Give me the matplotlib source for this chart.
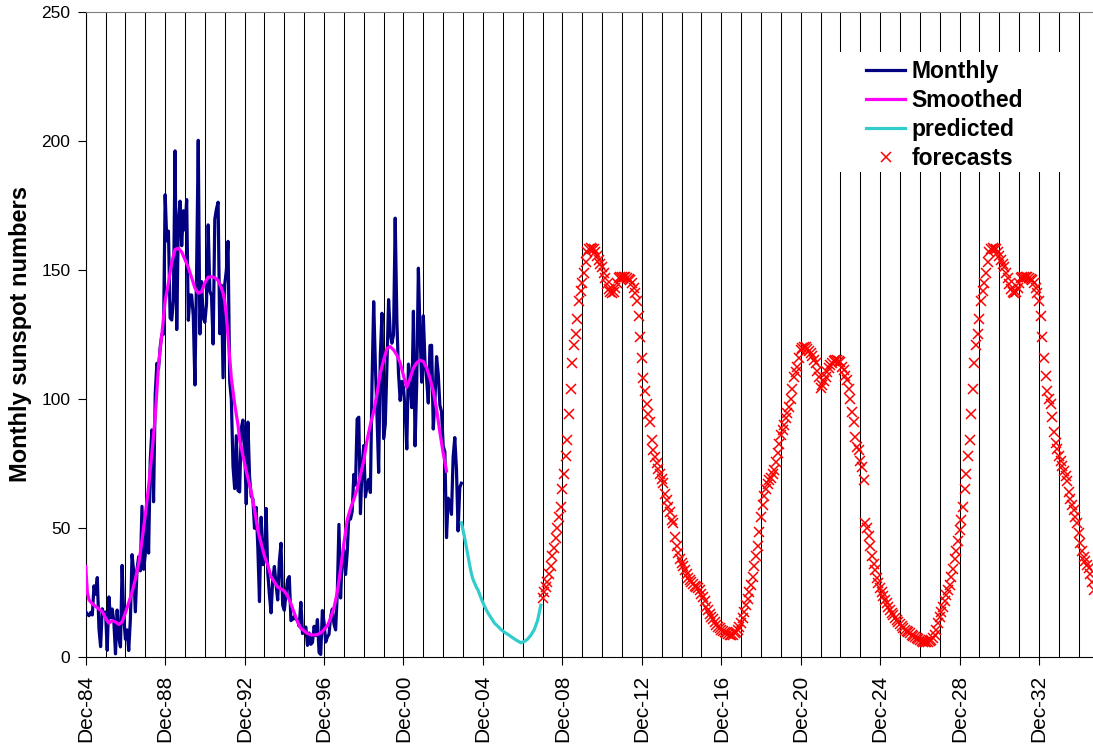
import numpy as np
import matplotlib
matplotlib.use("Agg")
import matplotlib.pyplot as plt
from matplotlib.patches import Rectangle

plt.rcParams['font.family'] = ['Liberation Sans', 'DejaVu Sans']

# x axis = months since Dec 1984
monthly = [17.5,
    16.5, 15.9, 17.2, 16.2, 27.5, 24.2, 30.7, 11.1, 3.9, 18.6, 16.2, 17.3,
    2.5, 23.2, 15.1, 18.5, 13.7, 1.1, 18.1, 7.4, 3.8, 35.4, 15.2, 6.8,
    10.4, 2.4, 14.7, 39.6, 33.0, 17.4, 33.9, 38.8, 33.3, 58.3, 33.9, 39.7,
    59.0, 40.2, 76.2, 88.0, 60.1, 101.8, 113.8, 111.6, 120.1, 125.1, 125.1, 179.2,
    161.3, 165.1, 131.4, 130.6, 138.5, 196.2, 126.9, 168.9, 176.7, 159.4, 173.0, 165.5,
    177.3, 130.5, 140.3, 140.3, 132.2, 105.4, 149.4, 200.3, 125.2, 145.5, 131.4, 129.7,
    136.9, 167.5, 141.9, 140.0, 121.3, 169.7, 173.7, 176.3, 125.3, 144.1, 108.2, 144.4,
    150.0, 161.1, 106.7, 99.8, 73.8, 65.2, 85.7, 64.5, 63.9, 88.7, 91.8, 82.6,
    59.3, 91.0, 69.8, 62.2, 61.3, 49.8, 57.9, 42.3, 21.4, 54.1, 35.7, 37.5,
    57.5, 32.6, 24.0, 17.0, 30.0, 35.0, 28.0, 22.0, 37.0, 44.0, 20.0, 18.0,
    24.2, 29.9, 31.1, 14.0, 14.5, 15.6, 14.5, 14.3, 11.8, 21.1, 9.0, 10.0,
    11.5, 4.4, 9.2, 4.8, 5.5, 11.8, 8.2, 14.4, 1.6, 0.9, 17.9, 13.3,
    5.7, 7.6, 8.7, 15.5, 18.5, 12.7, 10.4, 24.4, 51.3, 22.8, 39.0, 41.2,
    31.9, 40.3, 54.8, 53.4, 56.3, 70.7, 66.6, 92.2, 92.9, 55.5, 74.0, 81.9,
    62.0, 66.3, 68.8, 63.7, 106.4, 137.7, 113.5, 93.7, 71.5, 116.7, 133.2, 84.6,
    90.1, 112.9, 138.5, 125.5, 121.6, 124.9, 170.1, 130.5, 109.7, 99.4, 106.8, 104.4,
    95.6, 80.6, 113.5, 107.7, 96.6, 134.0, 81.8, 106.4, 150.7, 125.5, 106.5, 132.2,
    114.1, 107.4, 98.4, 120.7, 120.8, 88.3, 99.6, 116.4, 109.6, 97.5, 95.0, 81.6,
    79.5, 46.2, 61.5, 60.0, 55.2, 77.4, 85.0, 72.7, 48.8, 65.6, 67.3]

smoothed_month = [0, 1, 2, 4, 6, 8, 10, 12, 14, 16, 18, 20, 22, 24, 26, 28, 30, 32, 34,
                  36, 38, 40, 42, 44, 46, 48, 50, 52, 54, 56, 58, 60, 62, 64, 66, 68, 70,
                  72, 74, 76, 78, 80, 82, 83, 84, 85, 86, 87, 88, 89, 90, 91, 92, 93, 95,
                  97, 100, 102, 104, 106, 108, 110, 112, 114, 116, 118, 120, 122, 124,
                  126, 128, 130, 132, 134, 136, 138, 140, 142, 144, 146, 148, 150, 152,
                  154, 156, 158, 160, 162, 164, 166, 168, 170, 172, 174, 176, 178, 180,
                  182, 184, 186, 188, 190, 192, 194, 196, 198, 200, 202, 204, 206, 208,
                  210, 212, 214, 216, 218]
smoothed_value = [35, 25, 22, 20.5, 19.5, 18.5, 17.5, 15, 13, 14, 13.5, 12.5, 13.5, 17, 21,
                  25, 30, 36, 45, 55, 66, 79, 93, 113, 125, 138, 145, 153, 158, 158.4, 157,
                  154, 151, 147, 143, 141, 141.5, 145, 147.2, 147.4, 147, 146, 143, 141,
                  138, 132, 124, 116, 108, 103, 98, 94, 90, 84, 78, 72, 64, 57, 49, 44, 39,
                  35.5, 31, 29, 27, 26.3, 25.5, 23.5, 20.5, 17, 13.5, 11, 10, 9, 8.5, 8.4,
                  8.6, 9.2, 10.5, 12, 15, 19, 25, 34, 44, 53, 57.5, 61, 65, 70.5, 76, 84,
                  90, 95, 102, 110, 115, 119.5, 120.3, 119, 117, 114, 109, 104.5, 108, 112,
                  114, 115, 114.5, 112, 108, 103, 96, 87, 79, 72]

predicted_month = [227, 228, 229, 230, 231, 232, 233, 234, 235, 236, 237, 239, 241, 243,
                   245, 247, 249, 251, 253, 255, 257, 259, 261, 263, 265, 267, 269, 271,
                   273, 275]
predicted_value = [52, 49, 46, 42.5, 39, 35.5, 32.3, 30, 28.5, 27, 25.9, 22.5, 19.5, 17,
                   15, 13, 11.8, 10.5, 9.5, 8.7, 7.8, 6.9, 6.1, 5.4, 5.9, 6.8, 8.4, 10.5,
                   14, 20]

forecast_a_start = 276
forecast_a = [22.6, 25, 27, 29, 32, 35, 39, 42, 46, 50, 54, 58,
              65, 71, 78, 84, 94, 104, 114, 121, 125, 131, 138, 142,
              145, 149, 153, 157, 158, 158.4, 158.2, 158, 157, 155.5, 154, 152.5,
              151, 149, 147, 144.5, 142.5, 141.5, 141, 141.5, 143, 145, 147, 147.2,
              147.4, 147.4, 147.2, 147, 146.5, 146, 145, 143, 141, 138, 132, 124,
              116, 108, 103, 98, 94, 91, 84, 80, 77.5, 75, 73, 71,
              69, 67.3, 63, 60.8, 58, 56.2, 53, 51.7, 46.5, 43, 40.1, 38,
              36.2, 35, 33.6, 32, 30.5, 29.8, 29, 28.3, 27.6, 27.2, 26.5, 25.9,
              24.5, 23.3, 21.5, 19.4, 18, 16.5, 15.5, 14.5, 13.3, 12.3, 11.6, 11,
              10.4, 10, 9.5, 9.1, 8.8, 8.5, 8.4, 8.6, 9.1, 9.7, 10.5, 11.6,
              13, 15, 17.5, 20, 22.5, 25, 28, 31, 35, 39, 43, 48.5,
              54, 59, 62.5, 65, 67, 68.5, 69.5, 71, 72.5, 75.5, 79, 82.5,
              86, 88, 90, 92.5, 94.5, 97, 100, 104, 108.5, 110.5, 112.5, 116,
              119, 119.8, 120.3, 120.3, 119.5, 118.5, 117.7, 116.5, 115, 113.8, 111, 108.6,
              104.1, 105.5, 107, 108.6, 110.5, 112, 113.2, 114, 114.6, 115.1, 115, 114.8,
              114.4, 112.5, 111.2, 109, 107.3, 104, 100, 95, 91.2, 85.3, 81.5, 80,
              76, 73.7, 68.5]

forecast_b_start = 471
forecast_b = [51.7, 50, 47, 43, 39, 36, 33.5, 30.5, 28.5, 26.5, 25, 23.5,
              22, 20.7, 19.4, 18.1, 17, 16, 15, 14.2, 13.4, 12.6, 11.8, 11,
              10.5, 10, 9.5, 9.1, 8.6, 8.1, 7.6, 7.1, 6.7, 6.3, 6, 5.8,
              5.7, 5.6, 5.8, 6.1, 6.6, 7.1, 8.5, 10.4, 13, 15.5, 17.5, 19.4,
              21.5, 24, 26, 28, 31, 34, 38, 41, 45, 49, 53, 58,
              65, 71, 78, 84, 94, 104, 114, 121, 125, 131, 138, 142,
              145, 149, 153, 157, 158, 158.4, 158.2, 158, 157, 155.5, 154, 152.5,
              151, 149, 147, 144.5, 142.5, 141.5, 141, 141.5, 143, 145, 147, 147.2,
              147.4, 147.4, 147.2, 147, 146.5, 146, 145, 143, 141, 138, 132, 124,
              116, 109, 103, 100, 98, 93, 87, 83, 80.5, 78, 76, 74,
              72, 70, 68, 64, 61, 59, 57, 54, 51.7, 48, 44, 41,
              38.5, 37, 35.5, 34.5, 32, 29, 26]

tick_labels = ["Dec-84", "Dec-88", "Dec-92", "Dec-96", "Dec-00", "Dec-04", "Dec-08",
               "Dec-12", "Dec-16", "Dec-20", "Dec-24", "Dec-28", "Dec-32"]

fig = plt.figure(figsize=(10.93, 7.44), dpi=100)
ax = fig.add_axes([85.7 / 1093, 1 - 656.7 / 744, 1 - 85.7 / 1093, (656.7 - 12.2) / 744])

ax.plot(np.arange(len(monthly)), monthly, color="#000080", lw=2.3, label="Monthly", zorder=3)
ax.plot(smoothed_month, smoothed_value, color="#FF00FF", lw=2.3, label="Smoothed", zorder=4)
ax.plot(predicted_month, predicted_value, color="#33CCCC", lw=2.3, label="predicted", zorder=4)
ax.plot(forecast_a_start + np.arange(len(forecast_a)), forecast_a, ls="none", marker="x",
        ms=7.3, mew=1.1, color="#FF0000", label="forecasts", zorder=5)
ax.plot(forecast_b_start + np.arange(len(forecast_b)), forecast_b, ls="none", marker="x",
        ms=7.3, mew=1.1, color="#FF0000", zorder=5)

ax.set_xlim(0, 608.6)
ax.set_ylim(0, 250)
ax.set_yticks([0, 50, 100, 150, 200, 250])
ax.set_xticks(np.arange(0, 49 * 12 + 1, 48))
ax.set_xticklabels(tick_labels, rotation=90)
ax.set_xticks(np.arange(0, 609, 12), minor=True)
ax.tick_params(axis="x", which="major", length=6, width=0.8, labelsize=15, pad=7)
ax.tick_params(axis="x", which="minor", length=0)
ax.tick_params(axis="y", length=6, width=0.8, labelsize=12.5, pad=5)
ax.xaxis.grid(True, which="both", color="black", lw=0.75)
ax.set_axisbelow(True)

ax.spines["right"].set_visible(False)
ax.spines["top"].set_color("#808080")
ax.spines["left"].set_linewidth(0.8)
ax.spines["bottom"].set_linewidth(0.8)

# white area behind the legend
ax.add_patch(Rectangle(((838 - 85.7) / 1007.3, (656.7 - 172) / 644.5), 240 / 1007.3,
                       120 / 644.5, transform=ax.transAxes, facecolor="white",
                       edgecolor="none", zorder=1))
leg = ax.legend(loc="upper left", bbox_to_anchor=(855 / 1093, 1 - 49 / 744),
                bbox_transform=fig.transFigure, frameon=False, borderpad=0,
                handlelength=1.7, handletextpad=0.26, labelspacing=0.25,
                prop={"weight": "bold", "size": 16.5})

fig.text(21 / 1093, 1 - 334.5 / 744, "Monthly sunspot numbers", rotation=90,
         ha="center", va="center", fontsize=17, fontweight="bold")

fig.savefig("out.png", dpi=100)
